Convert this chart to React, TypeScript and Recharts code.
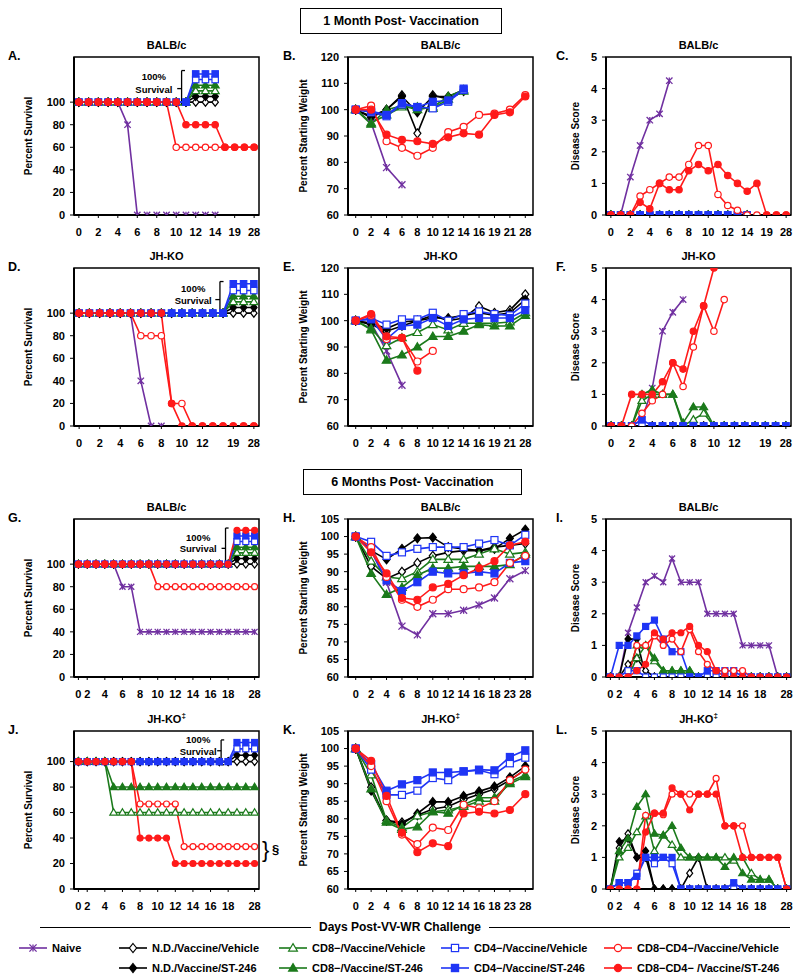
import React from 'react';
import { LineChart, Line, XAxis, YAxis, ReferenceArea, ReferenceLine, ReferenceDot } from 'recharts';

const FONT = '"Liberation Sans", Arial, Helvetica, sans-serif';
const PURPLE = '#7030A0';
const BLACK = '#000000';
const GREEN = '#1B7A1B';
const BLUE = '#1F35F5';
const RED = '#FF1A1A';

// ---------- categories (days) ----------
const DAYS_A = [0, 1, 2, 3, 4, 5, 6, 7, 8, 9, 10, 11, 12, 13, 14, 16, 19, 21, 28];
const TICKS_A = [0, 2, 4, 6, 8, 10, 12, 14, 16, 18];
const DAYS_B = [0, 2, 4, 6, 8, 10, 12, 14, 16, 19, 21, 28];
const TICKS_B = [0, 1, 2, 3, 4, 5, 6, 7, 8, 9, 10, 11];
const DAYS_D = [0, 1, 2, 3, 4, 5, 6, 7, 8, 9, 10, 11, 12, 14, 16, 19, 21, 28];
const TICKS_D = [0, 2, 4, 6, 8, 10, 12, 15, 17];
const DAYS_G = [0, 2, 3, 4, 5, 6, 7, 8, 9, 10, 11, 12, 13, 14, 15, 16, 17, 18, 21, 25, 28];
const TICKS_G = [0, 1, 3, 5, 7, 9, 11, 13, 15, 17, 20];
const DAYS_H = [0, 2, 4, 6, 8, 10, 12, 14, 16, 18, 23, 28];
const TICKS_H = [0, 1, 2, 3, 4, 5, 6, 7, 8, 9, 10, 11];

// ---------- A: 1 month BALB/c survival ----------
const A_NAIVE = [100, 100, 100, 100, 100, 80, 0, 0, 0, 0, 0, 0, 0, 0, 0];
const A_ND_VEH = [100, 100, 100, 100, 100, 100, 100, 100, 100, 100, 100, 100, 100, 100, 100];
const A_ND_ST = [100, 100, 100, 100, 100, 100, 100, 100, 100, 100, 100, 100, 105, 105, 105];
const A_CD8_VEH = [100, 100, 100, 100, 100, 100, 100, 100, 100, 100, 100, 100, 110, 110, 110];
const A_CD8_ST = [100, 100, 100, 100, 100, 100, 100, 100, 100, 100, 100, 100, 115, 115, 115];
const A_CD4_VEH = [100, 100, 100, 100, 100, 100, 100, 100, 100, 100, 100, 100, 120, 120, 120];
const A_CD4_ST = [100, 100, 100, 100, 100, 100, 100, 100, 100, 100, 100, 100, 125, 125, 125];
const A_DN_VEH = [100, 100, 100, 100, 100, 100, 100, 100, 100, 100, 60, 60, 60, 60, 60, 60, 60, 60, 60];
const A_DN_ST = [100, 100, 100, 100, 100, 100, 100, 100, 100, 100, 100, 80, 80, 80, 80, 60, 60, 60, 60];

// ---------- B: 1 month BALB/c weight ----------
const B_NAIVE = [100, 95, 78, 71.5];
const B_ND_VEH = [100, 97, 100, 105.5, 91, 105.5, 104, 107];
const B_ND_ST = [100, 97.5, 100, 105, 99, 105, 105, 107.5];
const B_CD8_VEH = [100, 95, 98, 101, 101, 100.5, 104, 107];
const B_CD8_ST = [100, 94.5, 100, 101.5, 100, 101, 105, 107.5];
const B_CD4_VEH = [100, 99, 97.5, 102, 101, 100.5, 103, 107.5];
const B_CD4_ST = [100, 99.5, 98, 102.5, 101, 103, 103.5, 108];
const B_DN_VEH = [100, 101.5, 88, 85.5, 82.5, 85.5, 91.5, 93.5, 98, 98.5, 100, 105.5];
const B_DN_ST = [100, 100, 90.5, 88.5, 88, 87, 89.5, 91, 90.5, 98, 99, 105];

// ---------- C: 1 month BALB/c disease ----------
const C_NAIVE = [0, 0, 1.2, 2.2, 3.0, 3.2, 4.25];
const C_ND_VEH = [0, 0, 0, 0, 0, 0, 0, 0, 0, 0, 0, 0, 0, 0, 0];
const C_ND_ST = [0, 0, 0, 0, 0, 0, 0, 0, 0, 0, 0, 0, 0, 0, 0];
const C_CD8_VEH = [0, 0, 0, 0, 0, 0, 0, 0, 0, 0, 0, 0, 0, 0, 0];
const C_CD8_ST = [0, 0, 0, 0, 0, 0, 0, 0, 0, 0, 0, 0, 0, 0, 0];
const C_CD4_VEH = [0, 0, 0, 0, 0, 0, 0, 0, 0, 0, 0, 0, 0, 0, 0];
const C_CD4_ST = [0, 0, 0, 0, 0, 0, 0, 0, 0, 0, 0, 0, 0, 0, 0];
const C_DN_VEH = [0, 0, 0, 0.6, 0.8, 1.0, 1.2, 1.2, 1.6, 2.2, 2.2, 0.65, 0.3, 0.15, 0, 0, 0, 0, 0];
const C_DN_ST = [0, 0, 0, 0.4, 0.2, 1.0, 0.8, 0.8, 1.4, 1.6, 1.4, 1.6, 1.25, 1.0, 0.75, 1.0, 0, 0, 0];

// ---------- D: 1 month JH-KO survival ----------
const D_NAIVE = [100, 100, 100, 100, 100, 100, 40, 0, 0];
const D_ND_VEH = [100, 100, 100, 100, 100, 100, 100, 100, 100, 100, 100, 100, 100, 100, 100, 100, 100, 100];
const D_ND_ST = [100, 100, 100, 100, 100, 100, 100, 100, 100, 100, 100, 100, 100, 100, 100, 105, 105, 105];
const D_CD8_VEH = [100, 100, 100, 100, 100, 100, 100, 100, 100, 100, 100, 100, 100, 100, 100, 110, 110, 110];
const D_CD8_ST = [100, 100, 100, 100, 100, 100, 100, 100, 100, 100, 100, 100, 100, 100, 100, 115, 115, 115];
const D_CD4_VEH = [100, 100, 100, 100, 100, 100, 100, 100, 100, 100, 100, 100, 100, 100, 100, 120, 120, 120];
const D_CD4_ST = [100, 100, 100, 100, 100, 100, 100, 100, 100, 100, 100, 100, 100, 100, 100, 126, 126, 126];
const D_DN_VEH = [100, 100, 100, 100, 100, 100, 80, 80, 80, 20, 20, 0, 0, 0, 0, 0, 0, 0];
const D_DN_ST = [100, 100, 100, 100, 100, 100, 100, 100, 100, 20, 0, 0, 0, 0, 0, 0, 0, 0];

// ---------- E: 1 month JH-KO weight ----------
const E_NAIVE = [100, 99, 88.5, 75.5];
const E_ND_VEH = [100, 98.5, 96, 98, 100, 102, 100, 101, 105.5, 103, 104, 110];
const E_ND_ST = [100, 99, 97, 99.5, 100, 101, 101, 102, 103, 102, 103, 108];
const E_CD8_VEH = [100, 97, 90.5, 93.5, 95.5, 98.5, 96.5, 99, 99, 99, 99.5, 103];
const E_CD8_ST = [100, 96.5, 85, 87, 90, 94, 94, 96, 98.5, 98, 98, 102];
const E_CD4_VEH = [100, 101, 98.5, 100.5, 100.5, 103, 100, 102.5, 103.5, 102.5, 102, 106.5];
const E_CD4_ST = [100, 100.5, 93, 98, 98.5, 101, 98, 100.5, 101, 101, 101, 104];
const E_DN_VEH = [100, 102, 93, 93.5, 84.5, 88.5];
const E_DN_ST = [100, 102.5, 94, 93.5, 81];

// ---------- F: 1 month JH-KO disease ----------
const F_NAIVE = [0, 0, 0, 0.2, 1.2, 3.0, 3.6, 4.0];
const F_ND_VEH = [0, 0, 0, 0, 0, 0, 0, 0, 0, 0, 0, 0, 0, 0, 0, 0, 0, 0];
const F_ND_ST = [0, 0, 0, 0, 0, 0, 0, 0, 0, 0, 0, 0, 0, 0, 0, 0, 0, 0];
const F_CD8_VEH = [0, 0, 0, 0.8, 1.0, 1.0, 1.0, 0, 0.2, 0.4, 0, 0, 0, 0, 0, 0, 0, 0];
const F_CD8_ST = [0, 0, 0, 1.0, 1.15, 1.0, 1.0, 0.1, 0.6, 0.6, 0, 0, 0, 0, 0, 0, 0, 0];
const F_CD4_VEH = [0, 0, 0, 0, 0, 0, 0, 0, 0, 0, 0, 0, 0, 0, 0, 0, 0, 0];
const F_CD4_ST = [0, 0, 0, 0.2, 0, 0, 0, 0, 0, 0, 0, 0, 0, 0, 0, 0, 0, 0];
const F_DN_VEH = [0, 0, 0, 0.4, 0.8, 1.0, 2.0, 1.25, 2.5, 3.8, 3.0, 4.0];
const F_DN_ST = [0, 0, 1.0, 1.0, 1.0, 1.4, 2.0, 1.8, 3.0, 3.8, 5.0];

// ---------- G: 6 months BALB/c survival ----------
const G_NAIVE = [100, 100, 100, 100, 100, 80, 80, 40, 40, 40, 40, 40, 40, 40, 40, 40, 40, 40, 40, 40, 40];
const G_ND_VEH = [100, 100, 100, 100, 100, 100, 100, 100, 100, 100, 100, 100, 100, 100, 100, 100, 100, 100, 100, 100, 100];
const G_ND_ST = [100, 100, 100, 100, 100, 100, 100, 100, 100, 100, 100, 100, 100, 100, 100, 100, 100, 100, 105, 105, 105];
const G_CD8_VEH = [100, 100, 100, 100, 100, 100, 100, 100, 100, 100, 100, 100, 100, 100, 100, 100, 100, 100, 110, 110, 110];
const G_CD8_ST = [100, 100, 100, 100, 100, 100, 100, 100, 100, 100, 100, 100, 100, 100, 100, 100, 100, 100, 115, 115, 115];
const G_CD4_VEH = [100, 100, 100, 100, 100, 100, 100, 100, 100, 100, 100, 100, 100, 100, 100, 100, 100, 100, 120, 120, 120];
const G_CD4_ST = [100, 100, 100, 100, 100, 100, 100, 100, 100, 100, 100, 100, 100, 100, 100, 100, 100, 100, 125, 125, 125];
const G_DN_VEH = [100, 100, 100, 100, 100, 100, 100, 100, 100, 80, 80, 80, 80, 80, 80, 80, 80, 80, 80, 80, 80];
const G_DN_ST = [100, 100, 100, 100, 100, 100, 100, 100, 100, 100, 100, 100, 100, 100, 100, 100, 100, 100, 130, 130, 130];

// ---------- H: 6 months BALB/c weight ----------
const H_NAIVE = [100, 96, 87, 74.5, 72, 78, 78, 79, 80.5, 82.5, 88, 90.3];
const H_ND_VEH = [100, 91.5, 88, 90, 92.5, 94.5, 95.5, 96, 96, 97, 97.5, 98];
const H_ND_ST = [100, 96, 93.5, 96.5, 99.5, 99.7, 97, 96.5, 96, 96.5, 99.5, 102];
const H_CD8_VEH = [100, 93, 88.5, 88, 90, 93.5, 93.5, 93.5, 95, 96.5, 95, 95.5];
const H_CD8_ST = [100, 89.5, 83.5, 85.5, 89, 91, 91, 91.5, 91.5, 91.5, 92, 95];
const H_CD4_VEH = [100, 98.5, 94.5, 95.5, 96.5, 97, 97, 97, 98, 99, 97.5, 100.5];
const H_CD4_ST = [100, 96, 87.5, 84.5, 87, 90, 89.5, 89.5, 90, 89.5, 92.5, 93];
const H_DN_VEH = [100, 97, 88.5, 82, 80, 82, 85, 85, 85.5, 87, 92.5, 94.5];
const H_DN_ST = [100, 95.5, 89.5, 82.5, 82, 85.5, 86.5, 89, 91, 93, 97.5, 98.5];

// ---------- I: 6 months BALB/c disease ----------
const I_NAIVE = [0, 0, 1.4, 2.2, 3.0, 3.2, 3.0, 3.75, 3.0, 3.0, 3.0, 2.0, 2.0, 2.0, 2.0, 1.0, 1.0, 1.0, 1.0, 0, 0];
const I_ND_VEH = [0, 0, 0.4, 0.6, 0.2, 0, 0, 0, 0, 0, 0, 0, 0, 0, 0, 0, 0, 0, 0, 0, 0];
const I_ND_ST = [0, 0, 1.2, 1.2, 0, 0, 0, 0, 0, 0, 0, 0, 0, 0, 0, 0, 0, 0, 0, 0, 0];
const I_CD8_VEH = [0, 0, 0, 0.6, 1.0, 0.5, 0.2, 0.2, 0.2, 0.2, 0, 0, 0, 0, 0, 0, 0, 0, 0, 0, 0];
const I_CD8_ST = [0, 0, 0, 1.0, 1.0, 0.6, 0.2, 0.2, 0.2, 0.2, 0, 0, 0, 0, 0, 0, 0, 0, 0, 0, 0];
const I_CD4_VEH = [0, 0, 0.2, 0.2, 0, 0, 0, 0, 0, 0, 0, 0, 0, 0, 0, 0, 0, 0, 0, 0, 0];
const I_CD4_ST = [0, 1.0, 1.0, 1.3, 1.6, 1.8, 1.2, 0.8, 0.8, 0, 0, 0.2, 0.2, 0.2, 0.2, 0, 0, 0, 0, 0, 0];
const I_DN_VEH = [0, 0, 0, 1.0, 1.0, 1.3, 1.0, 1.2, 0.8, 1.5, 0.8, 0.4, 0.2, 0.2, 0.2, 0.2, 0, 0, 0, 0, 0];
const I_DN_ST = [0, 0, 0, 0.2, 0.4, 1.4, 1.2, 1.4, 1.4, 1.6, 1.0, 0.8, 0.2, 0, 0, 0, 0, 0, 0, 0, 0];

// ---------- J: 6 months JH-KO survival ----------
const J_ND_VEH = [100, 100, 100, 100, 100, 100, 100, 100, 100, 100, 100, 100, 100, 100, 100, 100, 100, 100, 100, 100, 100];
const J_ND_ST = [100, 100, 100, 100, 100, 100, 100, 100, 100, 100, 100, 100, 100, 100, 100, 100, 100, 100, 105, 105, 105];
const J_CD8_VEH = [100, 100, 100, 100, 60, 60, 60, 60, 60, 60, 60, 60, 60, 60, 60, 60, 60, 60, 60, 60, 60];
const J_CD8_ST = [100, 100, 100, 100, 80, 80, 80, 80, 80, 80, 80, 80, 80, 80, 80, 80, 80, 80, 80, 80, 80];
const J_CD4_VEH = [100, 100, 100, 100, 100, 100, 100, 100, 100, 100, 100, 100, 100, 100, 100, 100, 100, 100, 110, 110, 110];
const J_CD4_ST = [100, 100, 100, 100, 100, 100, 100, 100, 100, 100, 100, 100, 100, 100, 100, 100, 100, 100, 115, 115, 115];
const J_DN_VEH = [100, 100, 100, 100, 100, 100, 100, 66.7, 66.7, 66.7, 66.7, 66.7, 33.3, 33.3, 33.3, 33.3, 33.3, 33.3, 33.3, 33.3, 33.3];
const J_DN_ST = [100, 100, 100, 100, 100, 100, 100, 40, 40, 40, 40, 20, 20, 20, 20, 20, 20, 20, 20, 20, 20];

// ---------- K: 6 months JH-KO weight ----------
const K_ND_VEH = [100, 89, 79.5, 79, 81, 82.8, 83.5, 85.5, 87, 88.5, 91, 94];
const K_ND_ST = [100, 88, 79.5, 78.5, 81.5, 84.8, 84.8, 86.5, 87.8, 89.2, 91.8, 95];
const K_CD8_VEH = [100, 92.5, 79.5, 77.5, 80.8, 82, 82.5, 83.5, 85, 85, 90.5, 92.5];
const K_CD8_ST = [100, 88.5, 79, 77, 77.7, 82, 81.6, 84, 86, 86, 90, 92];
const K_CD4_VEH = [100, 94, 86.8, 86.8, 88, 91.6, 91, 93.5, 93.8, 92.7, 95.8, 97.4];
const K_CD4_ST = [100, 95.5, 88, 89.8, 91, 93.2, 93.2, 93.5, 94, 93.8, 97.6, 99.5];
const K_DN_VEH = [100, 95, 85, 75.5, 72.8, 77.5, 76.8, 84, 83, 85, 91, 94];
const K_DN_ST = [100, 96.5, 86.5, 76, 70.5, 73, 72.2, 81.5, 82, 81.5, 82.5, 87];

// ---------- L: 6 months JH-KO disease ----------
const L_ND_VEH = [0, 1.3, 1.75, 1.0, 1.0, 0, 0, 0, 0, 0.5, 1.0, 0, 0, 0, 0, 0, 0, 0, 0, 0, 0];
const L_ND_ST = [0, 1.5, 1.6, 1.0, 1.2, 0, 0, 0, 0, 0, 0, 0, 0, 0, 0, 0, 0, 0, 0, 0, 0];
const L_CD8_VEH = [0, 1.0, 1.3, 1.8, 2.3, 1.2, 1.7, 1.4, 1.0, 1.0, 1.0, 1.0, 1.0, 1.0, 0.9, 1.0, 0.5, 0.3, 0.3, 0, 0];
const L_CD8_ST = [0, 1.2, 1.6, 2.6, 3.0, 1.75, 1.7, 2.0, 1.3, 1.0, 1.0, 1.0, 1.0, 0.7, 1.0, 0.5, 0.3, 0.3, 0.3, 0, 0];
const L_CD4_VEH = [0, 0.2, 0.2, 0.5, 1.0, 0.8, 1.0, 0.8, 0, 0, 0, 0, 0, 0, 0, 0, 0, 0, 0, 0, 0];
const L_CD4_ST = [0, 0.2, 0.2, 0.4, 1.0, 1.0, 1.0, 1.0, 0, 0, 0, 0, 0, 0, 0.2, 0, 0, 0, 0, 0, 0];
const L_DN_VEH = [0, 0, 0, 0, 2.33, 2.4, 2.35, 3.0, 3.0, 3.0, 3.0, 3.0, 3.5, 2.0, 2.0, 2.0, 1.0, 1.0, 1.0, 1.0, 0];
const L_DN_ST = [0, 0, 0, 0, 1.8, 2.4, 2.4, 3.2, 3.0, 2.5, 3.0, 3.0, 3.0, 2.0, 2.0, 1.0, 1.0, 1.0, 1.0, 1.0, 0];

// ---------- series definitions ----------
type Shape = 'star' | 'diamond' | 'triangle' | 'square' | 'circle';
interface SeriesDef { key: string; name: string; color: string; shape: Shape; filled: boolean }
const SERIES: SeriesDef[] = [
  { key: 'naive', name: 'Naive', color: PURPLE, shape: 'star', filled: false },
  { key: 'ndVeh', name: 'N.D./Vaccine/Vehicle', color: BLACK, shape: 'diamond', filled: false },
  { key: 'ndST', name: 'N.D./Vaccine/ST-246', color: BLACK, shape: 'diamond', filled: true },
  { key: 'cd8Veh', name: 'CD8\u2212/Vaccine/Vehicle', color: GREEN, shape: 'triangle', filled: false },
  { key: 'cd8ST', name: 'CD8\u2212/Vaccine/ST-246', color: GREEN, shape: 'triangle', filled: true },
  { key: 'cd4Veh', name: 'CD4\u2212/Vaccine/Vehicle', color: BLUE, shape: 'square', filled: false },
  { key: 'cd4ST', name: 'CD4\u2212/Vaccine/ST-246', color: BLUE, shape: 'square', filled: true },
  { key: 'dnVeh', name: 'CD8\u2212CD4\u2212/Vaccine/Vehicle', color: RED, shape: 'circle', filled: false },
  { key: 'dnST', name: 'CD8\u2212CD4\u2212 /Vaccine/ST-246', color: RED, shape: 'circle', filled: true },
];

function Marker({ cx, cy, shape, color, filled, s }: { cx: number; cy: number; shape: Shape; color: string; filled: boolean; s: number }) {
  const fill = filled ? color : '#ffffff';
  const sw = 1.2;
  if (shape === 'circle') return <circle cx={cx} cy={cy} r={s} fill={fill} stroke={color} strokeWidth={sw} />;
  if (shape === 'square') return <rect x={cx - s} y={cy - s} width={2 * s} height={2 * s} fill={fill} stroke={color} strokeWidth={sw} />;
  if (shape === 'diamond') {
    const h = s + 0.9;
    return <polygon points={`${cx},${cy - h} ${cx + s},${cy} ${cx},${cy + h} ${cx - s},${cy}`} fill={fill} stroke={color} strokeWidth={sw} />;
  }
  if (shape === 'triangle') {
    const h = s + 0.8;
    return <polygon points={`${cx},${cy - h} ${cx + h},${cy + s * 0.85} ${cx - h},${cy + s * 0.85}`} fill={fill} stroke={color} strokeWidth={sw} />;
  }
  return (
    <g stroke={color} strokeWidth={1.3}>
      <line x1={cx - s} y1={cy - s} x2={cx + s} y2={cy + s} />
      <line x1={cx - s} y1={cy + s} x2={cx + s} y2={cy - s} />
      <line x1={cx} y1={cy - s} x2={cx} y2={cy + s} />
    </g>
  );
}

const makeDot = (sd: SeriesDef, size: number) => (props: any) => {
  const { cx, cy, index, value } = props;
  const k = `${sd.key}-${index}`;
  if (cx == null || cy == null || value == null || Number.isNaN(cx) || Number.isNaN(cy)) return <g key={k} />;
  return <g key={k}><Marker cx={cx} cy={cy} shape={sd.shape} color={sd.color} filled={sd.filled} s={size} /></g>;
};

// ---------- layout ----------
const COL_X = [74, 348, 606];
const ROW_Y = [57, 268, 519, 731];
const PW = 185;
const PH = 158;
const YAX_W = 45;
const XAX_H = 32;
const TOP_M = 9;
const YLABEL_X = [28, 303, 575];
const LETTER_X = [8, 283, 556];

interface Inset { bx: number; top: number; tx: number; t1: number; t2: number; dash: number }
interface PanelDef {
  letter: string; title: string; titleSup?: string; row: number; col: number;
  days: number[]; ticks: number[]; yDomain: [number, number]; yTicks: number[]; yLabel: string;
  values: Record<string, number[]>; size: number; inset?: Inset;
}

const SURV_TICKS = [0, 20, 40, 60, 80, 100];
const W1_TICKS = [60, 70, 80, 90, 100, 110, 120];
const W2_TICKS = [60, 65, 70, 75, 80, 85, 90, 95, 100, 105];
const DS_TICKS = [0, 1, 2, 3, 4, 5];

const PANELS: PanelDef[] = [
  { letter: 'A.', title: 'BALB/c', row: 0, col: 0, days: DAYS_A, ticks: TICKS_A, yDomain: [0, 140], yTicks: SURV_TICKS, yLabel: 'Percent Survival', size: 3.2,
    values: { naive: A_NAIVE, ndVeh: A_ND_VEH, ndST: A_ND_ST, cd8Veh: A_CD8_VEH, cd8ST: A_CD8_ST, cd4Veh: A_CD4_VEH, cd4ST: A_CD4_ST, dnVeh: A_DN_VEH, dnST: A_DN_ST },
    inset: { bx: 10.55, top: 128, tx: 7.7, t1: 122.5, t2: 111.5, dash: 112 } },
  { letter: 'B.', title: 'BALB/c', row: 0, col: 1, days: DAYS_B, ticks: TICKS_B, yDomain: [60, 120], yTicks: W1_TICKS, yLabel: 'Percent Starting Weight', size: 3.5,
    values: { naive: B_NAIVE, ndVeh: B_ND_VEH, ndST: B_ND_ST, cd8Veh: B_CD8_VEH, cd8ST: B_CD8_ST, cd4Veh: B_CD4_VEH, cd4ST: B_CD4_ST, dnVeh: B_DN_VEH, dnST: B_DN_ST } },
  { letter: 'C.', title: 'BALB/c', row: 0, col: 2, days: DAYS_A, ticks: TICKS_A, yDomain: [0, 5], yTicks: DS_TICKS, yLabel: 'Disease Score', size: 3.2,
    values: { naive: C_NAIVE, ndVeh: C_ND_VEH, ndST: C_ND_ST, cd8Veh: C_CD8_VEH, cd8ST: C_CD8_ST, cd4Veh: C_CD4_VEH, cd4ST: C_CD4_ST, dnVeh: C_DN_VEH, dnST: C_DN_ST } },
  { letter: 'D.', title: 'JH-KO', row: 1, col: 0, days: DAYS_D, ticks: TICKS_D, yDomain: [0, 140], yTicks: SURV_TICKS, yLabel: 'Percent Survival', size: 3.2,
    values: { naive: D_NAIVE, ndVeh: D_ND_VEH, ndST: D_ND_ST, cd8Veh: D_CD8_VEH, cd8ST: D_CD8_ST, cd4Veh: D_CD4_VEH, cd4ST: D_CD4_ST, dnVeh: D_DN_VEH, dnST: D_DN_ST },
    inset: { bx: 13.7, top: 128, tx: 11.1, t1: 121.5, t2: 111, dash: 112 } },
  { letter: 'E.', title: 'JH-KO', row: 1, col: 1, days: DAYS_B, ticks: TICKS_B, yDomain: [60, 120], yTicks: W1_TICKS, yLabel: 'Percent Starting Weight', size: 3.5,
    values: { naive: E_NAIVE, ndVeh: E_ND_VEH, ndST: E_ND_ST, cd8Veh: E_CD8_VEH, cd8ST: E_CD8_ST, cd4Veh: E_CD4_VEH, cd4ST: E_CD4_ST, dnVeh: E_DN_VEH, dnST: E_DN_ST } },
  { letter: 'F.', title: 'JH-KO', row: 1, col: 2, days: DAYS_D, ticks: TICKS_D, yDomain: [0, 5], yTicks: DS_TICKS, yLabel: 'Disease Score', size: 3.2,
    values: { naive: F_NAIVE, ndVeh: F_ND_VEH, ndST: F_ND_ST, cd8Veh: F_CD8_VEH, cd8ST: F_CD8_ST, cd4Veh: F_CD4_VEH, cd4ST: F_CD4_ST, dnVeh: F_DN_VEH, dnST: F_DN_ST } },
  { letter: 'G.', title: 'BALB/c', row: 2, col: 0, days: DAYS_G, ticks: TICKS_G, yDomain: [0, 140], yTicks: SURV_TICKS, yLabel: 'Percent Survival', size: 3.0,
    values: { naive: G_NAIVE, ndVeh: G_ND_VEH, ndST: G_ND_ST, cd8Veh: G_CD8_VEH, cd8ST: G_CD8_ST, cd4Veh: G_CD4_VEH, cd4ST: G_CD4_ST, dnVeh: G_DN_VEH, dnST: G_DN_ST },
    inset: { bx: 16.7, top: 132, tx: 13.6, t1: 123.5, t2: 113.5, dash: 114 } },
  { letter: 'H.', title: 'BALB/c', row: 2, col: 1, days: DAYS_H, ticks: TICKS_H, yDomain: [60, 105], yTicks: W2_TICKS, yLabel: 'Percent Starting Weight', size: 3.5,
    values: { naive: H_NAIVE, ndVeh: H_ND_VEH, ndST: H_ND_ST, cd8Veh: H_CD8_VEH, cd8ST: H_CD8_ST, cd4Veh: H_CD4_VEH, cd4ST: H_CD4_ST, dnVeh: H_DN_VEH, dnST: H_DN_ST } },
  { letter: 'I.', title: 'BALB/c', row: 2, col: 2, days: DAYS_G, ticks: TICKS_G, yDomain: [0, 5], yTicks: DS_TICKS, yLabel: 'Disease Score', size: 3.0,
    values: { naive: I_NAIVE, ndVeh: I_ND_VEH, ndST: I_ND_ST, cd8Veh: I_CD8_VEH, cd8ST: I_CD8_ST, cd4Veh: I_CD4_VEH, cd4ST: I_CD4_ST, dnVeh: I_DN_VEH, dnST: I_DN_ST } },
  { letter: 'J.', title: 'JH-KO', titleSup: '\u2021', row: 3, col: 0, days: DAYS_G, ticks: TICKS_G, yDomain: [0, 124], yTicks: SURV_TICKS, yLabel: 'Percent Survival', size: 3.0,
    values: { ndVeh: J_ND_VEH, ndST: J_ND_ST, cd8Veh: J_CD8_VEH, cd8ST: J_CD8_ST, cd4Veh: J_CD4_VEH, cd4ST: J_CD4_ST, dnVeh: J_DN_VEH, dnST: J_DN_ST },
    inset: { bx: 16.2, top: 117, tx: 13.6, t1: 117, t2: 107.8, dash: 108.5 } },
  { letter: 'K.', title: 'JH-KO', titleSup: '\u2021', row: 3, col: 1, days: DAYS_H, ticks: TICKS_H, yDomain: [60, 105], yTicks: W2_TICKS, yLabel: 'Percent Starting Weight', size: 3.5,
    values: { ndVeh: K_ND_VEH, ndST: K_ND_ST, cd8Veh: K_CD8_VEH, cd8ST: K_CD8_ST, cd4Veh: K_CD4_VEH, cd4ST: K_CD4_ST, dnVeh: K_DN_VEH, dnST: K_DN_ST } },
  { letter: 'L.', title: 'JH-KO', titleSup: '\u2021', row: 3, col: 2, days: DAYS_G, ticks: TICKS_G, yDomain: [0, 5], yTicks: DS_TICKS, yLabel: 'Disease Score', size: 3.0,
    values: { ndVeh: L_ND_VEH, ndST: L_ND_ST, cd8Veh: L_CD8_VEH, cd8ST: L_CD8_ST, cd4Veh: L_CD4_VEH, cd4ST: L_CD4_ST, dnVeh: L_DN_VEH, dnST: L_DN_ST } },
];

const txt = { fontFamily: FONT, fontWeight: 'bold' as const, color: '#000' };

function Panel({ p }: { p: PanelDef }) {
  const n = p.days.length;
  const data = p.days.map((d, i) => {
    const o: Record<string, number | null> = { x: i };
    for (const s of SERIES) {
      const arr = p.values[s.key];
      o[s.key] = arr && i < arr.length ? arr[i] : null;
    }
    return o;
  });
  const left = COL_X[p.col];
  const top = ROW_Y[p.row];
  const W = YAX_W + PW + 6;
  const H = TOP_M + PH + XAX_H;
  const tickStyle = { fill: '#000', fontSize: 11, fontWeight: 'bold', fontFamily: FONT };
  const ins = p.inset;
  const lbl = (v: string) => ({ value: v, position: 'center' as const, fill: '#000', fontSize: 9.5, fontWeight: 'bold', fontFamily: FONT });
  return (
    <>
      <div style={{ ...txt, position: 'absolute', left: left, width: PW, top: top - 19, textAlign: 'center', fontSize: 11, lineHeight: '14px' }}>
        {p.title}{p.titleSup ? <sup style={{ fontSize: 8, lineHeight: 0 }}>{p.titleSup}</sup> : null}
      </div>
      <div style={{ ...txt, position: 'absolute', left: LETTER_X[p.col], top: top - 8, fontSize: 12.5, lineHeight: '15px' }}>{p.letter}</div>
      <div style={{ ...txt, position: 'absolute', left: YLABEL_X[p.col], top: top + PH / 2, fontSize: 10, whiteSpace: 'nowrap', transform: 'translate(-50%, -50%) rotate(-90deg)' }}>{p.yLabel}</div>
      <div style={{ position: 'absolute', left: left - YAX_W, top: top - TOP_M }}>
        <LineChart width={W} height={H} data={data} margin={{ top: TOP_M, right: 6, left: 0, bottom: 0 }}>
          <XAxis dataKey="x" type="number" domain={[-0.5, n - 0.5]} ticks={p.ticks} interval={0} allowDataOverflow
            tickFormatter={(i: number) => String(p.days[i])} height={XAX_H} tickSize={3} tickMargin={10}
            axisLine={{ stroke: '#000', strokeWidth: 2 }} tickLine={{ stroke: '#000', strokeWidth: 1 }} tick={tickStyle} />
          <YAxis type="number" domain={p.yDomain} ticks={p.yTicks} interval={0} allowDataOverflow width={YAX_W} tickSize={4} tickMargin={5}
            axisLine={{ stroke: '#000', strokeWidth: 2 }} tickLine={{ stroke: '#000', strokeWidth: 1 }} tick={tickStyle} />
          <ReferenceArea x1={-0.5} x2={n - 0.5} y1={p.yDomain[0]} y2={p.yDomain[1]} fill="none" stroke="#000" strokeWidth={1.5} ifOverflow="visible" />
          {ins ? <ReferenceLine segment={[{ x: ins.bx, y: 97.5 }, { x: ins.bx, y: ins.top }]} stroke="#000" strokeWidth={1.3} ifOverflow="visible" /> : null}
          {ins ? <ReferenceLine segment={[{ x: ins.bx, y: ins.top }, { x: ins.bx + 0.35, y: ins.top }]} stroke="#000" strokeWidth={1.3} ifOverflow="visible" /> : null}
          {ins ? <ReferenceLine segment={[{ x: ins.bx, y: 97.5 }, { x: ins.bx + 0.35, y: 97.5 }]} stroke="#000" strokeWidth={1.3} ifOverflow="visible" /> : null}
          {ins ? <ReferenceLine segment={[{ x: ins.bx - 0.45, y: ins.dash }, { x: ins.bx, y: ins.dash }]} stroke="#000" strokeWidth={1.3} ifOverflow="visible" /> : null}
          {ins ? <ReferenceDot x={ins.tx} y={ins.t1} r={0.01} fill="none" stroke="none" ifOverflow="visible" label={lbl('100%')} /> : null}
          {ins ? <ReferenceDot x={ins.tx} y={ins.t2} r={0.01} fill="none" stroke="none" ifOverflow="visible" label={lbl('Survival')} /> : null}
          {SERIES.filter((s) => p.values[s.key]).map((s) => (
            <Line key={s.key} dataKey={s.key} type="linear" stroke={s.color} strokeWidth={1.6} isAnimationActive={false}
              connectNulls={false} activeDot={false} dot={makeDot(s, p.size)} />
          ))}
        </LineChart>
      </div>
    </>
  );
}

function LegendItem({ s, x, y }: { s: SeriesDef; x: number; y: number }) {
  return (
    <div style={{ position: 'absolute', left: x, top: y - 8, height: 16, display: 'flex', alignItems: 'center', whiteSpace: 'nowrap' }}>
      <svg width={30} height={16}>
        <line x1={1} y1={8} x2={29} y2={8} stroke={s.color} strokeWidth={1.6} />
        <Marker cx={15} cy={8} shape={s.shape} color={s.color} filled={s.filled} s={3.6} />
      </svg>
      <span style={{ ...txt, fontSize: 11, marginLeft: 4 }}>{s.name}</span>
    </div>
  );
}

const LEG_X = [18, 118, 278, 440, 603];

export default function App() {
  const byKey = (k: string) => SERIES.find((s) => s.key === k)!;
  return (
    <div style={{ position: 'absolute', left: 0, top: 0, width: 800, height: 980, background: '#fff', overflow: 'hidden' }}>
      <div style={{ ...txt, position: 'absolute', left: 300, top: 8, width: 202, height: 26, border: '1.5px solid #000', boxSizing: 'border-box', display: 'flex', alignItems: 'center', justifyContent: 'center', fontSize: 12.5 }}>1 Month Post- Vaccination</div>
      <div style={{ ...txt, position: 'absolute', left: 303, top: 469, width: 219, height: 26, border: '1.5px solid #000', boxSizing: 'border-box', display: 'flex', alignItems: 'center', justifyContent: 'center', fontSize: 12.5 }}>6 Months Post- Vaccination</div>
      {PANELS.map((p) => <Panel key={p.letter} p={p} />)}
      <div style={{ ...txt, position: 'absolute', left: 262, top: 838, fontSize: 22, fontWeight: 'normal', lineHeight: '24px' }}>{'}'}</div>
      <div style={{ ...txt, position: 'absolute', left: 272, top: 843, fontSize: 13, lineHeight: '14px' }}>§</div>
      <div style={{ position: 'absolute', left: 40, width: 750, top: 927, borderTop: '1px solid #000' }} />
      <div style={{ ...txt, position: 'absolute', left: 0, width: 800, top: 920, textAlign: 'center', fontSize: 12, lineHeight: '14px' }}>
        <span style={{ background: '#fff', padding: '0 8px' }}>Days Post-VV-WR Challenge</span>
      </div>
      <LegendItem s={byKey('naive')} x={LEG_X[0]} y={948} />
      <LegendItem s={byKey('ndVeh')} x={LEG_X[1]} y={948} />
      <LegendItem s={byKey('cd8Veh')} x={LEG_X[2]} y={948} />
      <LegendItem s={byKey('cd4Veh')} x={LEG_X[3]} y={948} />
      <LegendItem s={byKey('dnVeh')} x={LEG_X[4]} y={948} />
      <LegendItem s={byKey('ndST')} x={LEG_X[1]} y={968} />
      <LegendItem s={byKey('cd8ST')} x={LEG_X[2]} y={968} />
      <LegendItem s={byKey('cd4ST')} x={LEG_X[3]} y={968} />
      <LegendItem s={byKey('dnST')} x={LEG_X[4]} y={968} />
    </div>
  );
}
